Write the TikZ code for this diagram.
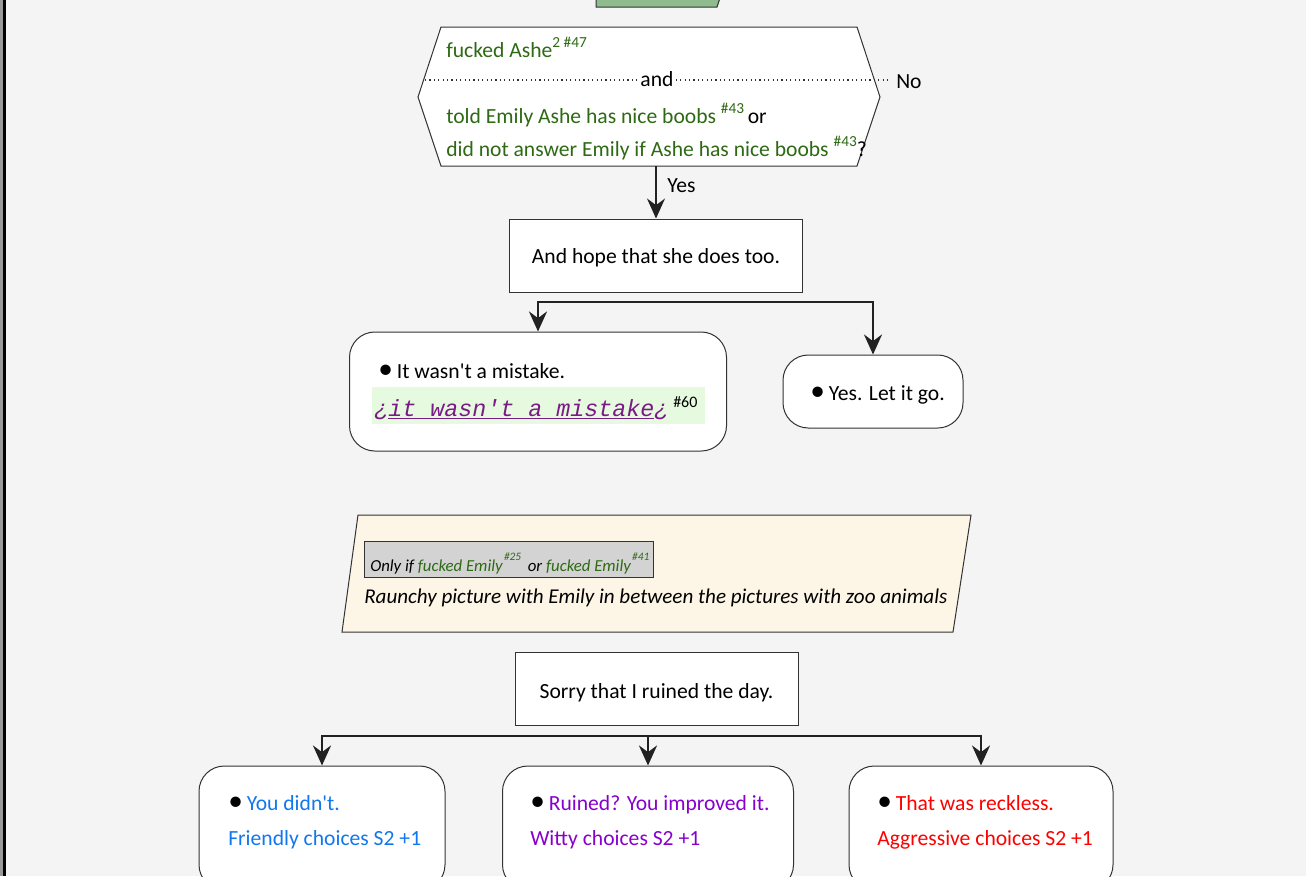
\documentclass[tikz,border=0pt]{standalone}
\usepackage{fontspec}
\setmainfont{Carlito}
\setmonofont{Liberation Mono}
\usetikzlibrary{arrows.meta}

\definecolor{pagebg}{HTML}{F4F4F4}
\definecolor{edge}{HTML}{333333}
\definecolor{wire}{HTML}{222222}
\definecolor{condgreen}{HTML}{2E6A14}
\definecolor{sagegreen}{HTML}{8FBC8F}
\definecolor{mint}{HTML}{E6FADF}
\definecolor{lace}{HTML}{FDF5E6}
\definecolor{notegray}{HTML}{D3D3D3}
\definecolor{linkpurple}{HTML}{7A1A86}
\definecolor{friendly}{HTML}{1177EE}
\definecolor{witty}{HTML}{8800CC}
\definecolor{aggro}{HTML}{FF0000}

% font size in pt
\newcommand\fsz[1]{\fontsize{#1}{#1}\selectfont}
\newcommand\supx[1]{\raisebox{0.42em}{\fsz{11.5pt}#1}}
\newcommand\supsmall[1]{\raisebox{0.65em}{\fsz{8.5pt}#1}}
\newcommand\bul{{\fsz{22pt}\textbullet}\hspace{3pt}}
\newcommand\apos{\textquotesingle}

\tikzset{
  plainbox/.style={draw=edge, fill=white, line width=0.75pt, inner sep=0pt, rectangle},
  roundbox/.style={plainbox, rounded corners=19pt},
  txt/.style={inner sep=0pt, anchor=base west, font=\fsz{16.2pt}},
  ctxt/.style={inner sep=0pt, anchor=base, font=\fsz{16.2pt}},
  tip/.style={-{Stealth[length=15pt,width=13.5pt,inset=5pt]}},
  flow/.style={draw=wire, line width=1.5pt, tip},
  branch/.style={draw=wire, line width=2.1pt, line join=miter, tip},
}

\begin{document}
\begin{tikzpicture}[x=0.75pt,y=-0.75pt]
  \useasboundingbox (0,0) rectangle (1306,876);
  \fill[pagebg] (0,0) rectangle (1306,876);
  % window edge on the left
  \fill[black!40] (0,0) rectangle (3,876);
  \fill[black] (3,0) rectangle (5.5,876);

  % previous step, cut off at the top
  \draw[fill=sagegreen, draw=edge, line width=0.75pt] (596,-5) -- (596,7) -- (717,7) -- (721,-5);

  % condition hexagon
  \draw[fill=white, draw=edge, line width=0.75pt]
    (441,27) -- (857,27) -- (880,97) -- (857,166) -- (441,166) -- (418,97) -- cycle;
  \coordinate (hexbot) at (656,166);
  \coordinate (dotL) at (425,80);
  \coordinate (dotR) at (889,80);
  \draw[edge, line width=1pt, dash pattern=on 0.9pt off 2.4pt] (dotL) -- (dotR);
  \node[inner sep=1.5pt, fill=white, font=\fsz{16.2pt}] (andtxt) at (657,79) {and};
  \node[txt] (notxt) at (896,88) {No};
  \node[txt, text=condgreen] (c1txt) at (446,57) {fucked Ashe\supx{2 \#47}};
  \node[txt, text=condgreen] (c2txt) at (446,123)
    {told Emily Ashe has nice boobs \supx{\#43}\,\textcolor{black}{or}};
  \node[txt, text=condgreen] (c3txt) at (446,156)
    {did not answer Emily if Ashe has nice boobs \supx{\#43}\textcolor{black}{?}};

  % first reply
  \node[plainbox, minimum width=293*0.75pt, minimum height=73*0.75pt] (hope) at (656,255.5) {};
  \node[ctxt] (hopetxt) at (656,263) {And hope that she does too.};
  \draw[flow] (hexbot) -- (hope);
  \node[txt] (yestxt) at (667,192) {Yes};

  % two options
  \node[roundbox, minimum width=377*0.75pt, minimum height=119*0.75pt] (mistake) at (538,391.5) {};
  \node[roundbox, minimum width=180*0.75pt, minimum height=73*0.75pt] (letgo) at (873,391.5) {};
  \coordinate (j1) at (538,302);
  \coordinate (j2) at (873,302);
  \draw[branch] (j2) -- (j1) -- (mistake);
  \draw[branch] (j1) -- (j2) -- (letgo);

  \node[txt] (mistaketxt) at (378,378) {\bul It wasn\apos t a mistake.};
  \node[fill=mint, inner sep=0pt, minimum width=333*0.75pt, minimum height=37*0.75pt] (hl) at (538.5,405.5) {};
  \node[txt, text=linkpurple, font=\fsz{17.5pt}\ttfamily\itshape] (linktxt) at (374,416)
    {¿\underline{it wasn\apos t a mistake}¿};
  \node[txt, font=\fsz{12pt}] (reftxt) at (673,407) {\#60};
  \node[txt] (letgotxt) at (810,400) {\bul Yes. Let it go.};

  % note card
  \draw[fill=lace, draw=edge, line width=0.75pt] (358,515) -- (971,515) -- (953,632) -- (342,632) -- cycle;
  \node[draw=edge, fill=notegray, line width=0.75pt, inner sep=0pt,
        minimum width=289*0.75pt, minimum height=36*0.75pt] (onlyif) at (508.5,559) {};
  \node[txt, font=\fsz{12.6pt}\itshape] (onlyiftxt) at (370,571)
    {Only if \textcolor{condgreen}{fucked Emily\hspace{1pt}\supsmall{\#25}}\hspace{5pt}or
     \textcolor{condgreen}{fucked Emily\hspace{1pt}\supsmall{\#41}}};
  \node[txt, font=\fsz{15.8pt}\itshape] (raunchy) at (364,603)
    {Raunchy picture with Emily in between the pictures with zoo animals};

  % second reply
  \node[plainbox, minimum width=283*0.75pt, minimum height=73*0.75pt] (sorry) at (656.5,689) {};
  \node[ctxt] (sorrytxt) at (656.5,698) {Sorry that I ruined the day.};

  % three choices
  \node[roundbox, minimum width=246*0.75pt, minimum height=124*0.75pt] (ch1) at (322,828) {};
  \node[roundbox, minimum width=291*0.75pt, minimum height=124*0.75pt] (ch2) at (648,828) {};
  \node[roundbox, minimum width=264*0.75pt, minimum height=124*0.75pt] (ch3) at (981,828) {};
  \coordinate (j3) at (322,736);
  \coordinate (jm) at (648,736);
  \coordinate (j4) at (981,736);
  \draw[branch] (j4) -- (j3) -- (ch1);
  \draw[branch] (j3) -- (j4) -- (ch3);
  \draw[branch] (jm) -- (ch2);

  \node[txt, text=friendly] (ch1a) at (228,810) {\textcolor{black}{\bul}You didn\apos t.};
  \node[txt, text=friendly] (ch1b) at (228,845) {Friendly choices S2 +1};
  \node[txt, text=witty] (ch2a) at (530,810) {\textcolor{black}{\bul}Ruined? You improved it.};
  \node[txt, text=witty] (ch2b) at (530,845) {Witty choices S2 +1};
  \node[txt, text=aggro] (ch3a) at (877,810) {\textcolor{black}{\bul}That was reckless.};
  \node[txt, text=aggro] (ch3b) at (877,845) {Aggressive choices S2 +1};
\end{tikzpicture}
\end{document}
